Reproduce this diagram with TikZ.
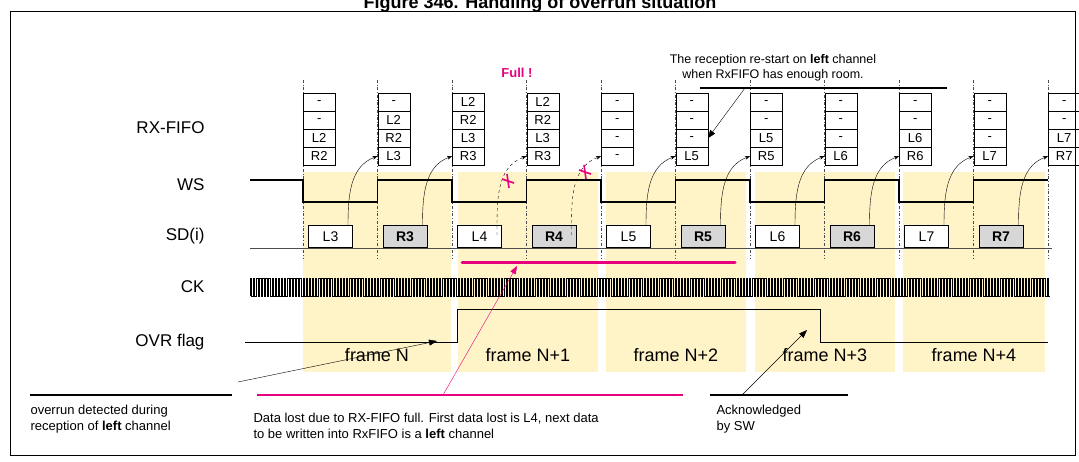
\documentclass[tikz,border=0pt]{standalone}
\usepackage{fontspec}
\setmainfont{Liberation Sans}
\usetikzlibrary{arrows.meta}
\definecolor{frameyel}{RGB}{255,243,200}
\definecolor{pinkred}{RGB}{230,0,126}
\definecolor{boxgrey}{RGB}{215,215,215}
\tikzset{
  fifobox/.style={draw, thin, minimum width=32, minimum height=18, inner sep=0, anchor=north west, font=\fontsize{13}{13}\selectfont},
  sdbox/.style={draw, line width=1pt, minimum width=44, minimum height=22, inner sep=0, anchor=north west, font=\fontsize{14}{14}\selectfont},
  signame/.style={anchor=east, font=\fontsize{17}{17}\selectfont},
  slotline/.style={dash dot, thin, black!70},
  wave/.style={line width=1.2pt},
  note/.style={anchor=north west, align=left, font=\fontsize{13}{15.5}\selectfont},
  writearrow/.style={-{Stealth[length=5pt]}, thin, out=90, in=200},
  lostmark/.style={pinkred, line width=1.6pt},
}
\begin{document}
\begin{tikzpicture}[x=1pt, y=-1pt]
    \clip (0,0) rectangle (1079,461);
    % frame and title
    \draw[line width=1pt] (10,11) -- (1075,11) -- (1075,455) -- (10,455) -- cycle;
    \node[anchor=base, font=\bfseries\fontsize{18}{18}\selectfont] (title) at (540,8) {Figure 346. Handling of overrun situation};

    % yellow frames
    \foreach \a/\b/\lab in {303/451/frame N, 458/598/frame N+1, 606/746/frame N+2, 755/895/frame N+3, 903/1045/frame N+4}{
        \fill[frameyel] (\a,172) rectangle (\b,372);
        \node[font=\fontsize{18}{18}\selectfont] at ({(\a+\b)/2},355) {\lab};
    }

    % signal names
    \node[signame] (n_fifo) at (208,128) {RX-FIFO};
    \node[signame] (n_ws) at (208,185) {WS};
    \node[signame] (n_sd) at (208,236) {SD(i)};
    \node[signame] (n_ck) at (208,287) {CK};
    \node[signame] (n_ovr) at (208,342) {OVR flag};

    % slot lines
    \foreach \i in {0,...,10}{
        \pgfmathsetmacro\xx{303+74.5*\i}
        \draw[slotline] (\xx,80) -- (\xx,258);
    }

    % fifo contents
    \foreach \i/\a/\b/\c/\d in {0/-/-/L2/R2, 1/-/L2/R2/L3, 2/L2/R2/L3/R3, 3/L2/R2/L3/R3, 4/-/-/-/-, 5/-/-/-/L5, 6/-/-/L5/R5, 7/-/-/-/L6, 8/-/-/L6/R6, 9/-/-/-/L7, 10/-/-/L7/R7}{
        \pgfmathsetmacro\xx{303+74.5*\i}
        \node[fifobox] (f\i-1) at (\xx,93) {\a};
        \node[fifobox] (f\i-2) at (\xx,111) {\b};
        \node[fifobox] (f\i-3) at (\xx,129) {\c};
        \node[fifobox] (f\i-4) at (\xx,147) {\d};
    }

    % WS
    \draw[wave] (250,180) -- (303,180) -- (303,202) -- (377.5,202) -- (377.5,180) -- (452,180) -- (452,202)
        -- (526.5,202) -- (526.5,180) -- (601,180) -- (601,202) -- (675.5,202) -- (675.5,180) -- (750,180) -- (750,202)
        -- (824.5,202) -- (824.5,180) -- (899,180) -- (899,202) -- (973.5,202) -- (973.5,180) -- (1048,180);

    % SD
    \draw[thin, black!70] (250,248) -- (1052,248);
    \foreach \i/\lab in {0/L3, 1/R3, 2/L4, 3/R4, 4/L5, 5/R5, 6/L6, 7/R6, 8/L7, 9/R7}{
        \pgfmathsetmacro\xx{303+74.5*\i+5}
        \ifodd\i
            \node[sdbox, fill=boxgrey, font=\bfseries\fontsize{14}{14}\selectfont] (sd\i) at (\xx,225) {\lab};
        \else
            \node[sdbox, fill=white] (sd\i) at (\xx,225) {\lab};
        \fi
    }

    % writes into fifo
    \foreach \i/\j in {0/1, 1/2, 4/5, 5/6, 6/7, 7/8, 8/9, 9/10}{
        \draw[writearrow] ([xshift=-5]sd\i.north east) to (f\j-4.west);
    }
    \foreach \i/\j in {2/3, 3/4}{
        \draw[writearrow, dashed] ([xshift=-5, yshift=-10]sd\i.north east) to (f\j-4.west);
    }
    \coordinate (x1) at (508,181);
    \coordinate (x2) at (585,172);
    \foreach \c in {x1, x2}{
        \draw[lostmark] ([shift={(-6,-2)}]\c) -- ([shift={(6,2)}]\c);
        \draw[lostmark] ([shift={(-1,-7)}]\c) -- ([shift={(1,7)}]\c);
    }
    \node[pinkred, font=\bfseries\fontsize{13}{13}\selectfont] (full) at (517,73) {Full !};

    % lost data bar
    \draw[pinkred, line width=3pt, line cap=round] (462,262) -- (735,262);

    % CK
    \draw[thin] (250,296) \foreach \k in {0,...,257}{ -- ++(0,-18) -- ++(1.55,0) -- ++(0,18) -- ++(1.55,0)};

    % OVR flag
    \draw[thick] (245,342) -- (457,342) -- (457,309) -- (820,309) -- (820,342) -- (1048,342);

    % top note
    \node[font=\fontsize{12.5}{15}\selectfont, align=center] (restart) at (773,68) {The reception re-start on \textbf{left} channel\\when RxFIFO has enough room.};
    \draw[line width=1.5pt] (700,88) -- (947,88);
    \coordinate (ul_arr) at (745,88);
    \draw[-{Triangle[length=8pt, width=6pt]}] (ul_arr) -- (f5-3.east);

    % bottom notes
    \draw[line width=1.5pt] (30,395) -- (232,395);
    \node[note] (ovr_note) at (27,402) {overrun detected during\\reception of \textbf{left} channel};
    \coordinate (ovr_tail) at (238,382);
    \coordinate (ovr_rise) at (437,341);
    \draw[-{Triangle[length=8pt, width=6pt]}] (ovr_tail) -- (ovr_rise);

    \draw[pinkred, line width=1.5pt] (257,395) -- (683,395);
    \node[note] (lost_note) at (250,410) {Data lost due to RX-FIFO full. First data lost is L4, next data\\to be written into RxFIFO is a \textbf{left} channel};
    \coordinate (lost_tail) at (443,395);
    \coordinate (lost_head) at (517,266);
    \draw[pinkred, -{Triangle[length=8pt, width=6pt]}] (lost_tail) -- (lost_head);

    \draw[line width=1.5pt] (710,395) -- (848,395);
    \node[note] (ack_note) at (713,402) {Acknowledged\\by SW};
    \coordinate (ack_tail) at (742,395);
    \coordinate (ack_fall) at (807,330);
    \draw[-{Triangle[length=8pt, width=6pt]}] (ack_tail) -- (ack_fall);
\end{tikzpicture}
\end{document}
